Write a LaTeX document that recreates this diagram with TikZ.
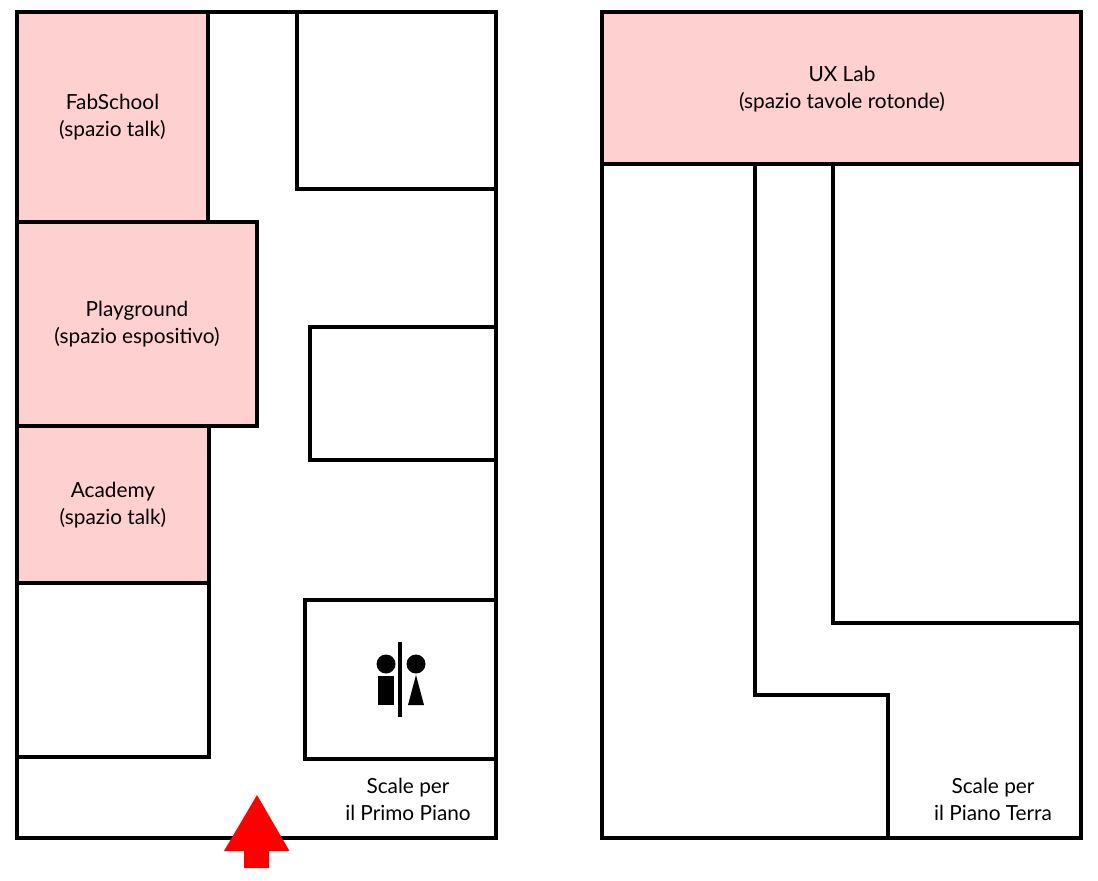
\documentclass[tikz,border=0pt]{standalone}
\usepackage{fontspec}
\setmainfont{Lato}
\definecolor{roompink}{HTML}{FFD0D0}
\tikzset{
  wall/.style={draw=black, line width=4.2pt, line join=miter},
  roomfill/.style={wall, fill=roompink},
  roomlabel/.style={align=center, text=black, inner sep=0pt, font=\fontsize{20.8}{27}\selectfont},
  wcsign/.style={fill=black, draw=none},
}
\begin{document}
\begin{tikzpicture}[x=1pt, y=-1pt]
  \useasboundingbox (0,0) rectangle (1098,881);
  % first floor
  \draw[wall] (17,12) rectangle (496,838);
  \draw[roomfill] (17,12) rectangle (208,222);
  \draw[roomfill] (17,426) rectangle (209,583);
  \draw[roomfill] (17,222) rectangle (257,426);
  \draw[wall] (17,583) rectangle (209,757);
  \draw[wall] (297,12) rectangle (496,189);
  \draw[wall] (309.8,327) rectangle (496,460);
  \draw[wall] (305,600) rectangle (496,759);
  \node[roomlabel] (fabschool) at (112.5,116.8) {FabSchool\\(spazio talk)};
  \node[roomlabel] (playground) at (137,323.8) {Playground\\(spazio espositivo)};
  \node[roomlabel] (academy) at (113,504.8) {Academy\\(spazio talk)};
  \node[roomlabel] (scaleprimo) at (408,799.3) {Scale per\\il Primo Piano};
  % toilets
  \fill[wcsign] (386,664) circle (9.5);
  \fill[wcsign] (416,664) circle (9.5);
  \fill[wcsign] (378,676) rectangle (394,705);
  \fill[wcsign] (416,675) -- (424,705) -- (408,705) -- cycle;
  \fill[wcsign] (398,642) rectangle (402,717);
  % ground floor
  \draw[wall] (602,12) rectangle (1081,838);
  \draw[roomfill] (602,12) rectangle (1081,164);
  \draw[wall] (755,164) -- (755,695) -- (888,695) -- (888,838);
  \draw[wall] (832.8,164) -- (832.8,623) -- (1081,623);
  \node[roomlabel] (uxlab) at (842,88.8) {UX Lab\\(spazio tavole rotonde)};
  \node[roomlabel] (scaleterra) at (993,799.3) {Scale per\\il Piano Terra};
  % entrance
  \fill[red] (257,795) -- (289.5,851) -- (269,851) -- (269,868) -- (244,868) -- (244,851) -- (224,851) -- cycle;
\end{tikzpicture}
\end{document}
